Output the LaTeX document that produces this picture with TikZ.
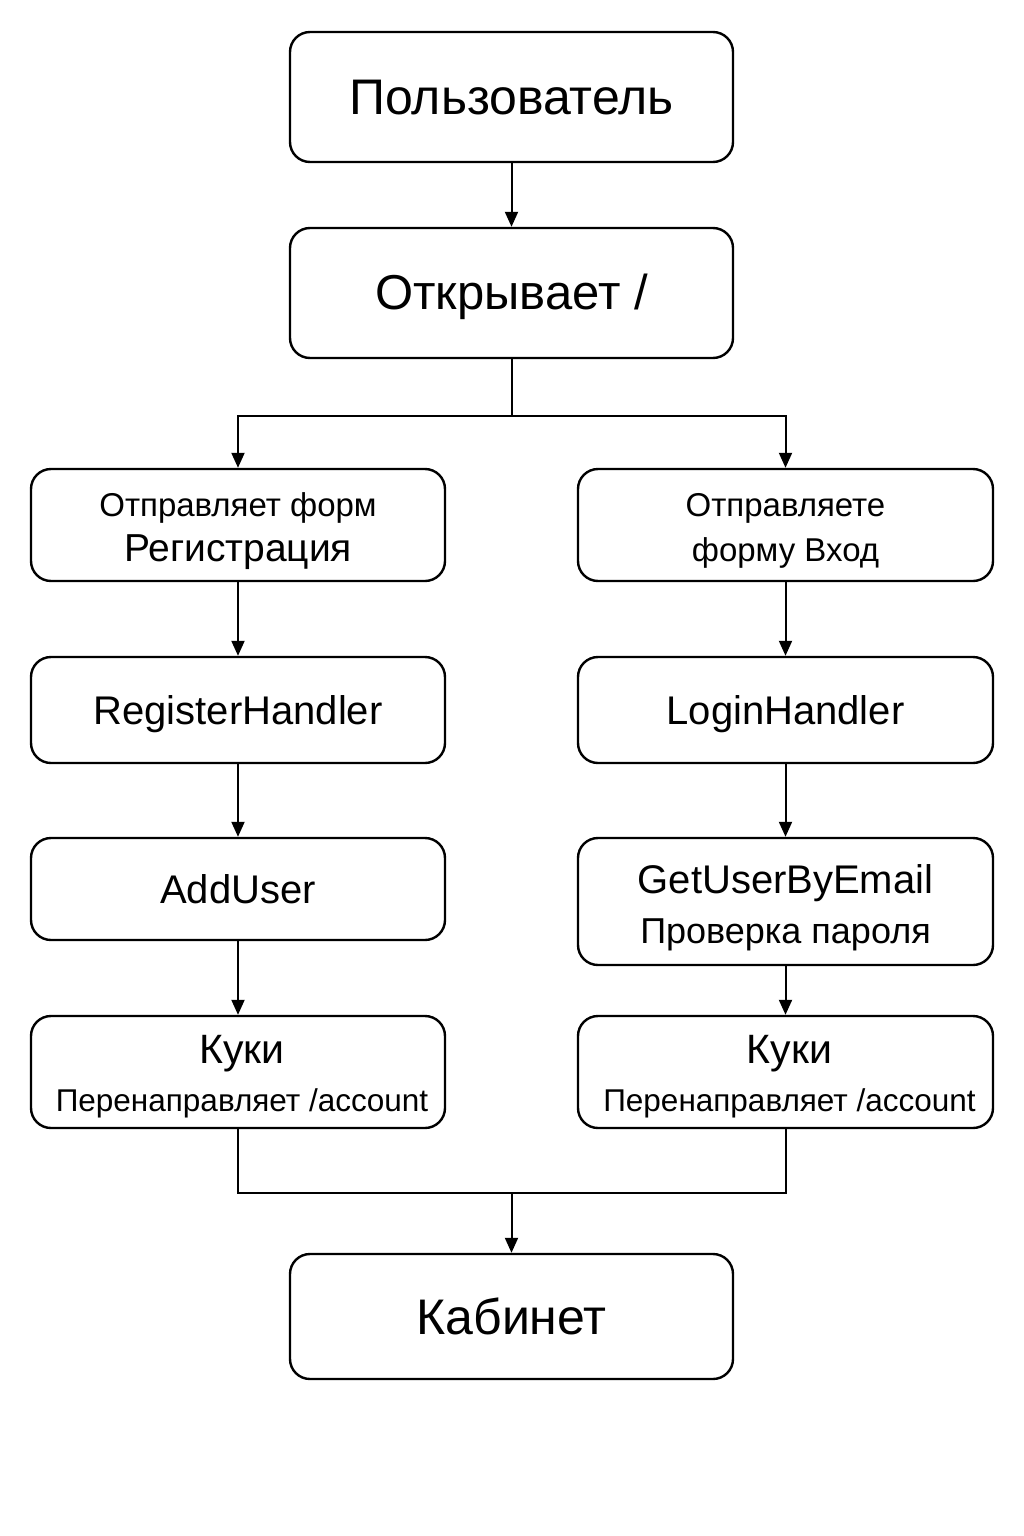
\documentclass[tikz,border=0pt]{standalone}
\usepackage{fontspec}
\setmainfont{Liberation Sans}
\usetikzlibrary{arrows.meta}
\begin{document}
\begin{tikzpicture}[x=1pt,y=-1pt,
  box/.style={draw=black, line width=2.4pt, rounded corners=20pt, inner sep=0pt, fill=white},
  lbl/.style={inner sep=0pt, align=center, text=black},
  arr/.style={line width=2pt, -{Triangle[length=15pt,width=13pt]}},
  ln/.style={line width=2pt}]
\useasboundingbox[fill=white] (0,0) rectangle (1024,1536);
\node[box, minimum width=443pt, minimum height=130pt,
  label={[lbl, yshift=-1pt, font=\fontsize{50}{60}\selectfont]center:Пользователь}] (user) at (511.5,97) {};
\node[box, minimum width=443pt, minimum height=130pt,
  label={[lbl, yshift=-4pt, font=\fontsize{49}{60}\selectfont]center:Открывает /}] (open) at (511.5,293) {};
\node[box, minimum width=414pt, minimum height=112pt,
  label={[lbl, yshift=-6pt, font=\fontsize{33}{45}\selectfont]center:{Отправляет форм\\{\fontsize{39}{45}\selectfont Регистрация}}}] (regform) at (238,525) {};
\node[box, minimum width=415pt, minimum height=112pt,
  label={[lbl, yshift=-6pt, font=\fontsize{33}{45}\selectfont]center:{Отправляете\\форму Вход}}] (logform) at (785.5,525) {};
\node[box, minimum width=414pt, minimum height=106pt,
  label={[lbl, yshift=-4pt, font=\fontsize{40}{48}\selectfont]center:RegisterHandler}] (reg) at (238,710) {};
\node[box, minimum width=415pt, minimum height=106pt,
  label={[lbl, yshift=-4pt, font=\fontsize{40}{48}\selectfont]center:LoginHandler}] (login) at (785.5,710) {};
\node[box, minimum width=414pt, minimum height=102pt,
  label={[lbl, yshift=0pt, font=\fontsize{40}{48}\selectfont]center:AddUser}] (add) at (238,889) {};
\node[box, minimum width=415pt, minimum height=127pt,
  label={[lbl, yshift=-6pt, font=\fontsize{40}{50}\selectfont]center:{GetUserByEmail\\{\fontsize{36}{50}\selectfont Проверка пароля}}}] (get) at (785.5,901.5) {};
\node[box, minimum width=414pt, minimum height=112pt,
  label={[lbl, yshift=-5pt, xshift=4pt, font=\fontsize{41}{48}\selectfont]center:{Куки\\{\fontsize{31.5}{48}\selectfont Перенаправляет /account}}}] (cookl) at (238,1072) {};
\node[box, minimum width=415pt, minimum height=112pt,
  label={[lbl, yshift=-5pt, xshift=4pt, font=\fontsize{41}{48}\selectfont]center:{Куки\\{\fontsize{31.5}{48}\selectfont Перенаправляет /account}}}] (cookr) at (785.5,1072) {};
\node[box, minimum width=443pt, minimum height=125pt,
  label={[lbl, yshift=0pt, font=\fontsize{50}{60}\selectfont]center:Кабинет}] (cab) at (511.5,1316.5) {};
\coordinate (split) at (511.5,416);
\coordinate (merge) at (511.5,1193);
\draw[arr] (user.south) -- (open.north);
\draw[ln] (open.south) -- (split);
\draw[arr] (split) -| (regform.north);
\draw[arr] (split) -| (logform.north);
\draw[arr] (regform.south) -- (reg.north);
\draw[arr] (logform.south) -- (login.north);
\draw[arr] (reg.south) -- (add.north);
\draw[arr] (login.south) -- (get.north);
\draw[arr] (add.south) -- (cookl.north);
\draw[arr] (get.south) -- (cookr.north);
\draw[ln] (cookl.south) |- (merge);
\draw[ln] (cookr.south) |- (merge);
\draw[arr] (merge) -- (cab.north);
\end{tikzpicture}
\end{document}
